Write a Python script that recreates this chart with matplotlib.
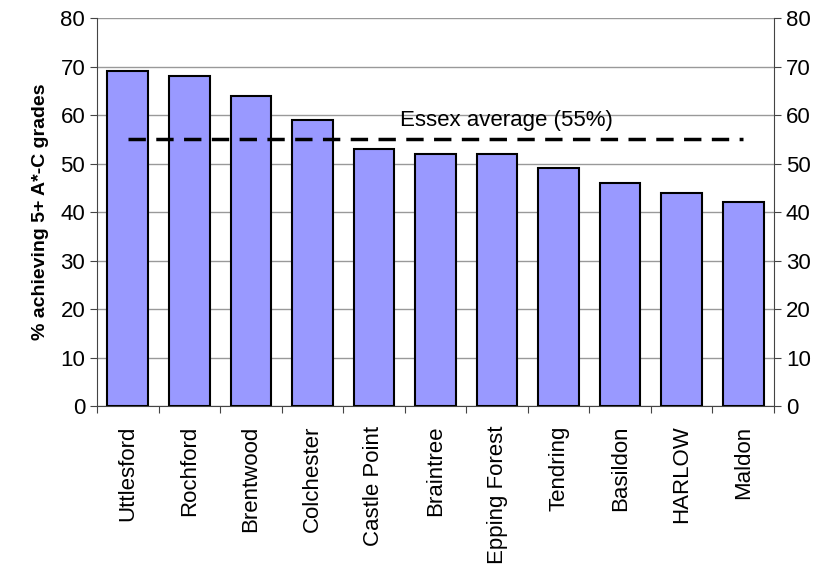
import numpy as np
import matplotlib.pyplot as plt

plt.rcParams['font.family'] = ['Liberation Sans', 'DejaVu Sans']

districts = ['Uttlesford', 'Rochford', 'Brentwood', 'Colchester', 'Castle Point',
             'Braintree', 'Epping Forest', 'Tendring', 'Basildon', 'HARLOW', 'Maldon']
pct_5ac = [69, 68, 64, 59, 53, 52, 52, 49, 46, 44, 42]
essex_avg = 55

fig = plt.figure(figsize=(8.18, 5.64), dpi=100)
ax = fig.add_axes([0.1186, 0.280, 0.8276, 0.688])

x = np.arange(len(districts))
ax.bar(x, pct_5ac, width=0.66, color='#9999FF', edgecolor='black', linewidth=1.5, zorder=3)
ax.plot([x[0], x[-1]], [essex_avg, essex_avg], color='black', linestyle=(0, (5, 3)),
        linewidth=2.5, zorder=4)
ax.text(6.15, essex_avg + 1.8, 'Essex average (55%)', ha='center', va='bottom', fontsize=16)

ax.set_xlim(-0.5, len(districts) - 0.5)
ax.set_ylim(0, 80)
ax.set_yticks(range(0, 81, 10))
ax.yaxis.grid(color='#999999', linewidth=1, zorder=0)
ax.set_axisbelow(True)

ax.set_xticks(np.arange(-0.5, len(districts), 1))
ax.set_xticklabels([])
ax.set_xticks(x, minor=True)
ax.set_xticklabels(districts, minor=True, rotation=90, fontsize=16)
ax.tick_params(axis='x', which='minor', length=0, pad=14)
ax.tick_params(axis='x', which='major', length=5, direction='out', color='#444444')
ax.tick_params(axis='y', labelsize=16, length=5, color='#444444')

for s in ['top', 'right']:
    ax.spines[s].set_visible(False)
ax.spines['left'].set_color('#444444')
ax.spines['bottom'].set_color('#444444')

ax2 = ax.twinx()
ax2.set_ylim(0, 80)
ax2.set_yticks(range(0, 81, 10))
ax2.tick_params(axis='y', labelsize=16, length=5, color='#444444')
for s in ['top', 'left', 'bottom']:
    ax2.spines[s].set_visible(False)
ax2.spines['right'].set_color('#444444')

ax.set_ylabel('% achieving 5+ A*-C grades', fontsize=14, fontweight='bold', labelpad=8)

fig.savefig('out.png', dpi=100)
